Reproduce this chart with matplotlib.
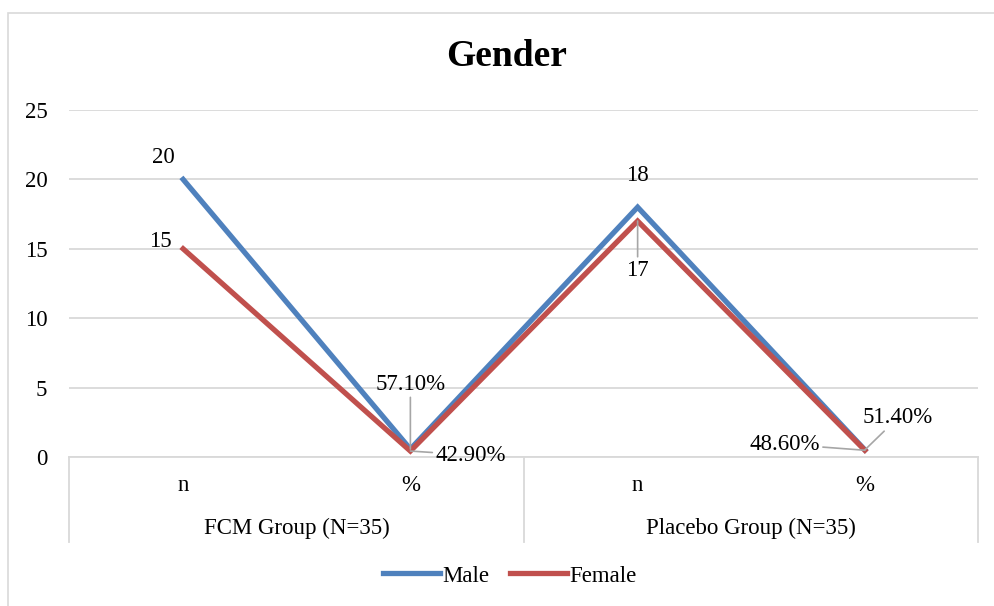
import matplotlib.pyplot as plt
import matplotlib.transforms as mtransforms
from matplotlib.patches import Rectangle

plt.rcParams['font.family'] = ['Liberation Serif', 'DejaVu Serif']

# data
sub_labels = ['n', '%', 'n', '%']
groups = ['FCM Group (N=35)', 'Placebo Group (N=35)']
male = [20, 0.571, 18, 0.514]
female = [15, 0.429, 17, 0.486]
male_txt = ['20', '57.10%', '18', '51.40%']
female_txt = ['15', '42.90%', '17', '48.60%']

blue = '#4F81BD'
red = '#C0504D'
grid_c = '#D9D9D9'

fig = plt.figure(figsize=(9.95, 6.06), dpi=100)
W, H = 995, 606
ax = fig.add_axes([69.5 / W, 1 - 457 / H, 909 / W, 347 / H])

# chart border (Excel chart area)
fig.patches.append(Rectangle((8 / W, -0.1), 1.2, 1 - 13 / H + 0.1, transform=fig.transFigure,
                             fill=False, edgecolor=grid_c, lw=1.2))

x = list(range(len(sub_labels)))
ax.plot(x, male, color=blue, lw=3.8, solid_joinstyle='miter', label='Male', zorder=3)
ax.plot(x, female, color=red, lw=3.8, solid_joinstyle='miter', label='Female', zorder=3)

ax.set_xlim(-0.5, 3.5)
ax.set_ylim(0, 25)
ax.set_yticks([0, 5, 10, 15, 20, 25])
ax.yaxis.grid(True, color=grid_c, lw=1.3)
ax.set_axisbelow(True)
for s in ['top', 'right', 'left']:
    ax.spines[s].set_visible(False)
ax.spines['bottom'].set_color(grid_c)
ax.spines['bottom'].set_linewidth(1.3)
ax.tick_params(axis='y', length=0, pad=16, labelsize=16.5)
ax.set_xticks(x)
ax.set_xticklabels(sub_labels)
ax.tick_params(axis='x', length=0, pad=13, labelsize=16.5)

# group labels and separators of the category axis
trans = mtransforms.blended_transform_factory(ax.transData, ax.transAxes)
for i, g in enumerate(groups):
    ax.text(2 * i + 0.5, -(528 - 457) / 347, g, transform=trans, ha='center', va='center',
            fontsize=16.5)
for sx in [-0.5, 1.5, 3.5]:
    ax.plot([sx, sx], [0, -(542 - 457) / 347], transform=trans, color=grid_c, lw=1.3,
            clip_on=False)

# data labels (offsets in pixels, leader line flag)
male_off = [(-20, 22, False), (0, 65, True), (0, 32, False), (33, 32, True)]
female_off = [(-23, 7, False), (60, -4, True), (0, -49, True), (-80, 6, True)]
lead = dict(arrowstyle='-', color='#A6A6A6', lw=1.2, shrinkA=0, shrinkB=0)
for vals, txts, offs in [(male, male_txt, male_off), (female, female_txt, female_off)]:
    for xi, v, t, (dx, dy, ld) in zip(x, vals, txts, offs):
        ax.annotate(t, xy=(xi, v), xytext=(dx, dy), textcoords='offset pixels',
                    ha='center', va='center', fontsize=16.5, zorder=4,
                    arrowprops=lead if ld else None)

fig.text(507 / W, 1 - 57 / H, 'Gender', fontsize=27, fontweight='bold', ha='center', va='center')

fig.legend(loc='center', bbox_to_anchor=(510 / W, 1 - 576 / H), ncol=2, frameon=False,
           fontsize=16.5, handlelength=2.5, handletextpad=0.1, columnspacing=0.9)

fig.savefig('out.png', dpi=100)
